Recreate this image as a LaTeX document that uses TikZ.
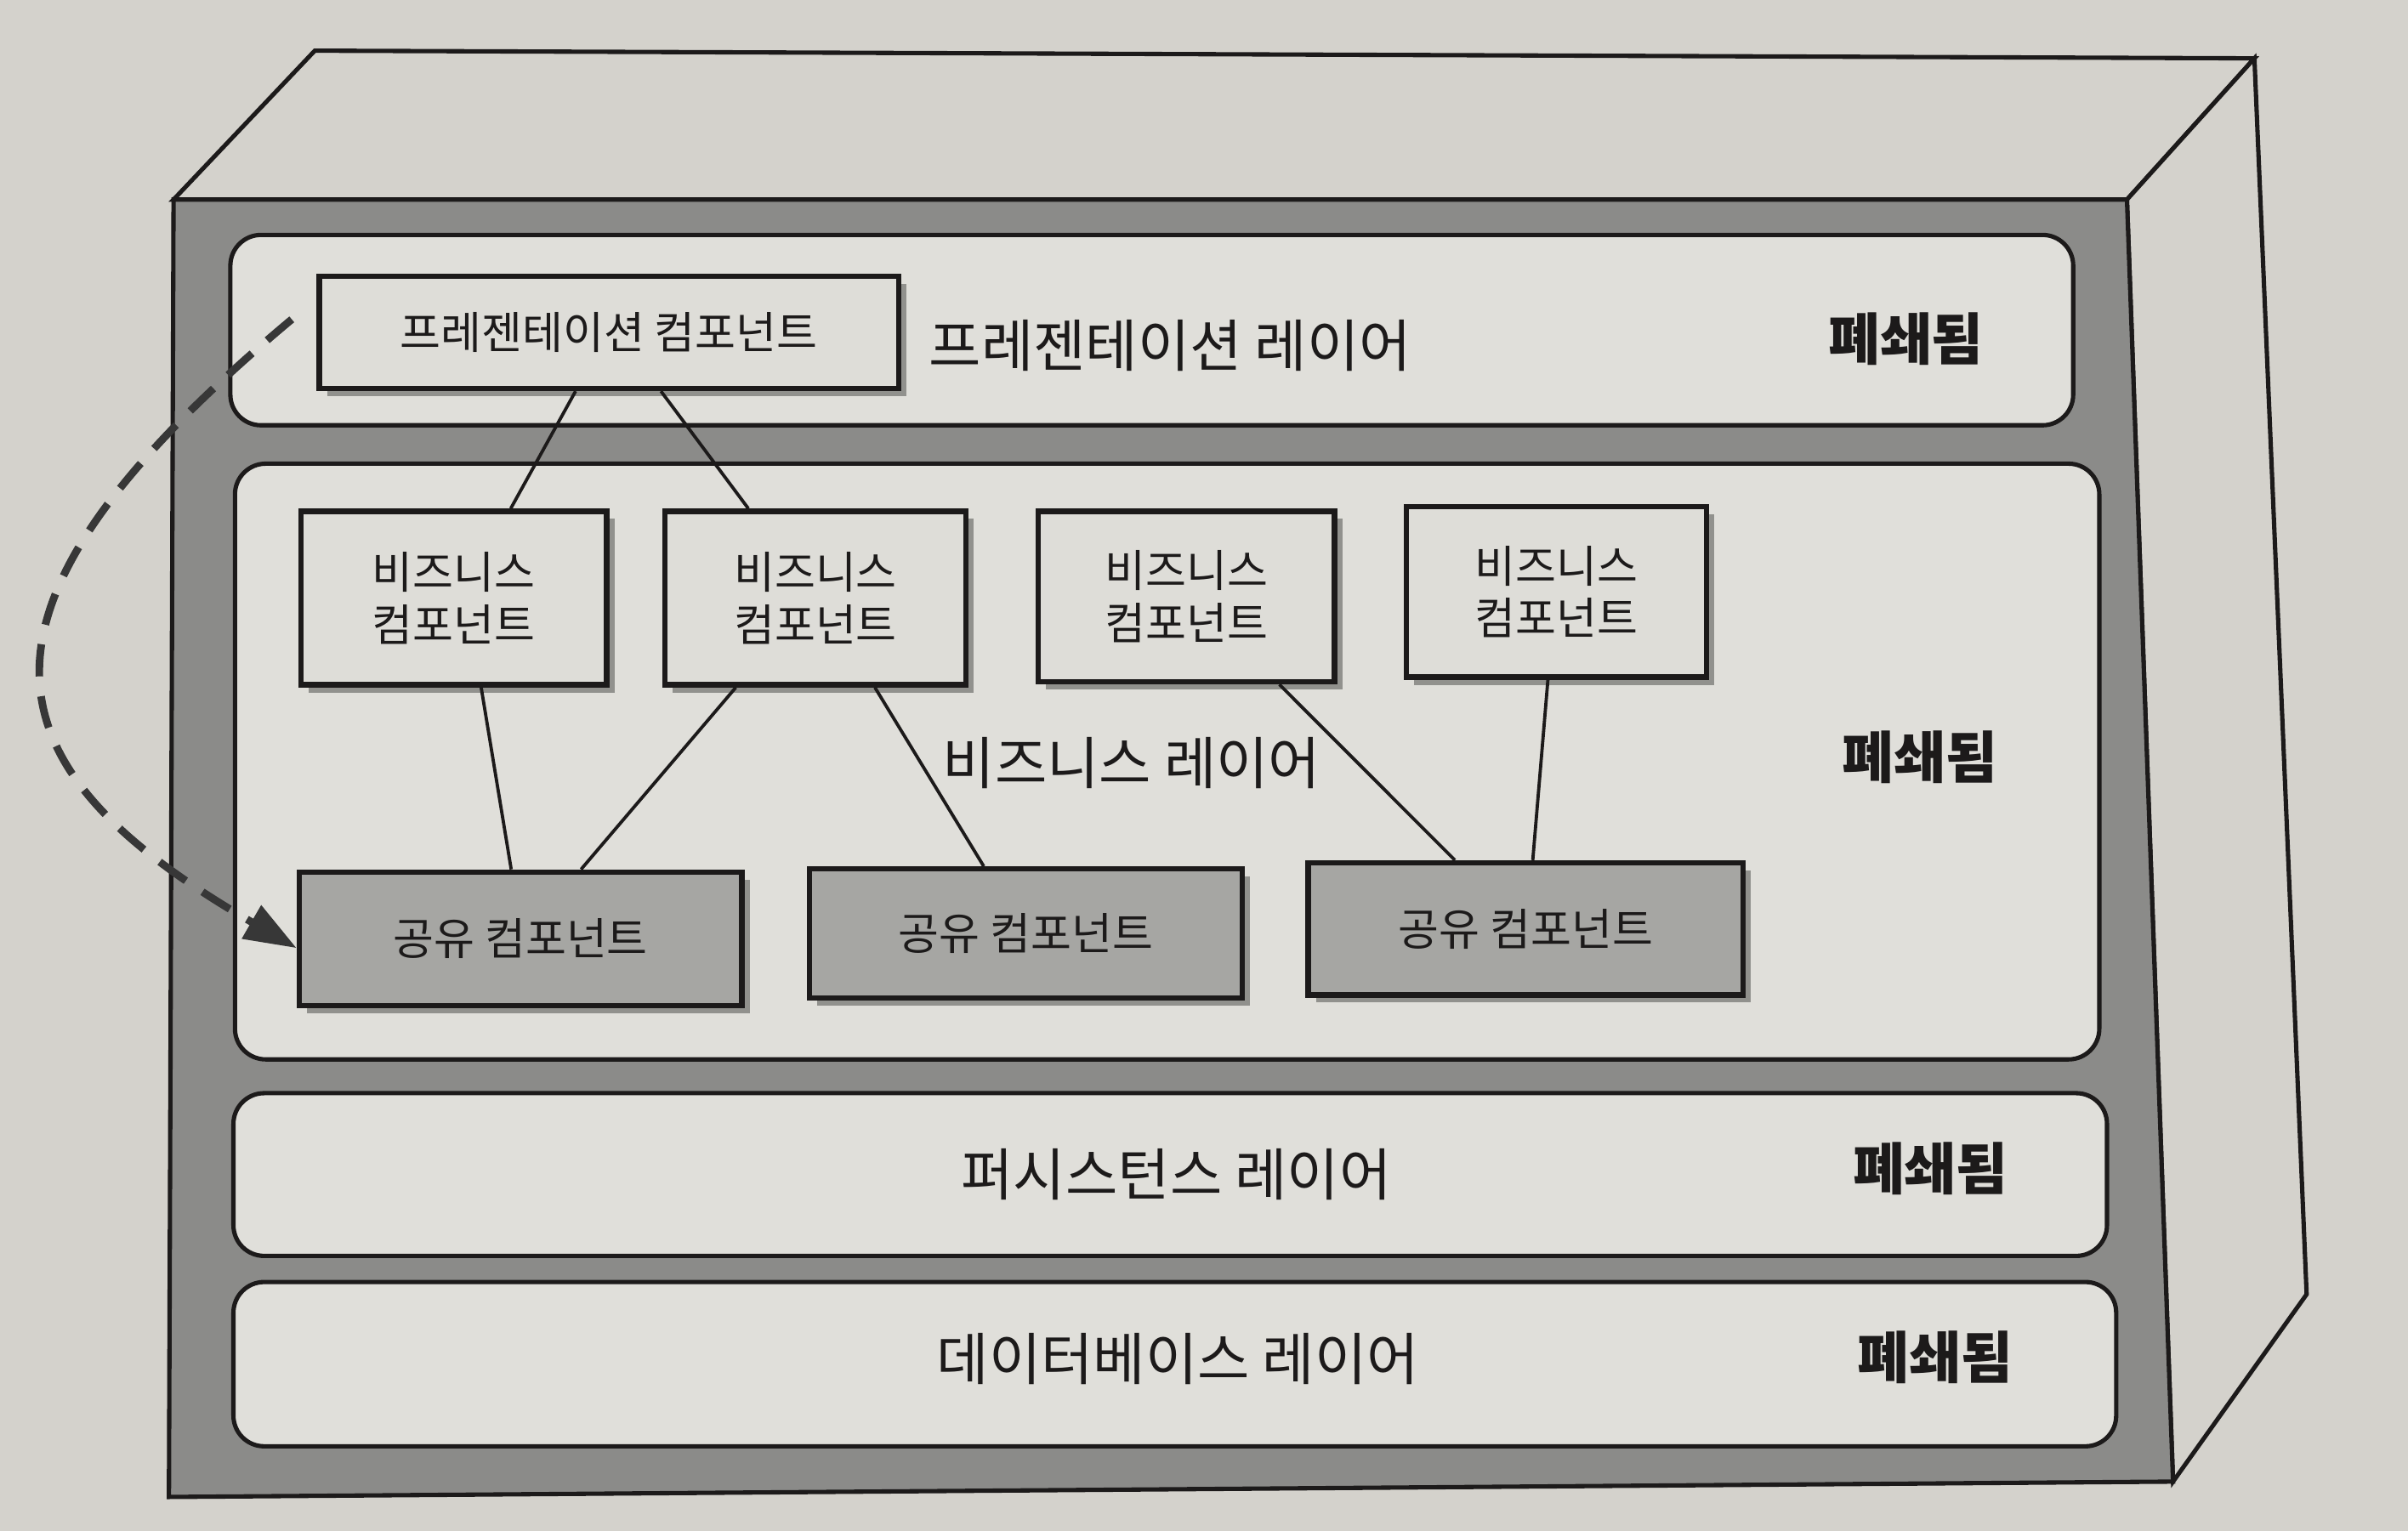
\documentclass[tikz,border=0pt]{standalone}
\usepackage{fontspec}
\newfontfamily\kr{Noto Sans CJK KR}
\usetikzlibrary{calc,arrows.meta,shadows}
\definecolor{paper}{RGB}{212,210,204}
\definecolor{layerfill}{RGB}{224,223,218}
\definecolor{framegray}{RGB}{139,139,137}
\definecolor{sharedfill}{RGB}{166,166,163}
\definecolor{compfill}{RGB}{222,221,216}
\definecolor{ink}{RGB}{28,26,26}
\definecolor{dashink}{RGB}{55,55,55}
\tikzset{
  comp/.style={draw=ink, line width=1pt, fill=compfill, inner sep=0pt, align=center,
    text=ink, font=\kr\fontsize{8.2}{9.7}\selectfont,
    drop shadow={shadow xshift=0.05cm, shadow yshift=-0.05cm, fill=black, opacity=0.35}},
  shcomp/.style={comp, fill=sharedfill},
  layer/.style={draw=ink, line width=0.8pt, fill=layerfill, rounded corners=0.2cm},
  lbl/.style={font=\kr\fontsize{10.5}{12}\selectfont, text=ink},
  closed/.style={font=\kr\bfseries\fontsize{10.4}{12}\selectfont, text=ink},
  link/.style={draw=ink, line width=0.6pt},
  boxline/.style={draw=ink, line width=0.8pt}
}
\begin{document}
\begin{tikzpicture}[x=0.01cm,y=-0.01cm]
\useasboundingbox (0,0) rectangle (1568,997);
\fill[paper] (0,0) rectangle (1568,997);
% outer box
\filldraw[boxline, fill=paper] (113,130) -- (205,33) -- (1468,38) -- (1385,130) -- cycle;
\filldraw[boxline, fill=paper] (1385,130) -- (1468,38) -- (1502,843) -- (1415,965) -- cycle;
\filldraw[boxline, fill=framegray] (113,130) -- (1385,130) -- (1415,965) -- (110,975) -- cycle;
% layers
\draw[layer] (150,153) rectangle (1350,277);
\draw[layer] (153,302) rectangle (1367,690);
\draw[layer] (152,712) rectangle (1372,818);
\draw[layer] (152,835) rectangle (1378,942);
% layer labels
\node[lbl] (lp) at (762,225) {프레젠테이션 레이어};
\node[closed] (cp) at (1241,221) {폐쇄됨};
\node[lbl] (lb) at (737,497) {비즈니스 레이어};
\node[closed] (cb) at (1250,493) {폐쇄됨};
\node[lbl] (ls) at (766,765) {퍼시스턴스 레이어};
\node[closed] (cs) at (1257,761) {폐쇄됨};
\node[lbl] (ld) at (767,885) {데이터베이스 레이어};
\node[closed] (cd) at (1260,884) {폐쇄됨};
% components
\node[comp, minimum width=3.77cm, minimum height=0.73cm] (P) at (396.5,216.5) {프레젠테이션 컴포넌트};
\node[comp, minimum width=1.99cm, minimum height=1.13cm] (B1) at (295.5,389.5) {비즈니스\\컴포넌트};
\node[comp, minimum width=1.96cm, minimum height=1.13cm] (B2) at (531,389.5) {비즈니스\\컴포넌트};
\node[comp, minimum width=1.93cm, minimum height=1.11cm] (B3) at (772.5,388.5) {비즈니스\\컴포넌트};
\node[comp, minimum width=1.95cm, minimum height=1.11cm] (B4) at (1013.5,385.5) {비즈니스\\컴포넌트};
\node[shcomp, minimum width=2.88cm, minimum height=0.87cm] (S1) at (339,611.5) {공유 컴포넌트};
\node[shcomp, minimum width=2.82cm, minimum height=0.84cm] (S2) at (668,608) {공유 컴포넌트};
\node[shcomp, minimum width=2.83cm, minimum height=0.86cm] (S3) at (993.5,605) {공유 컴포넌트};
% connectors
\draw[link] ($(P.south west)!0.443!(P.south east)$) -- ($(B1.north west)!0.683!(B1.north east)$);
\draw[link] ($(P.south west)!0.589!(P.south east)$) -- ($(B2.north west)!0.281!(B2.north east)$);
\draw[link] ($(B1.south west)!0.588!(B1.south east)$) -- ($(S1.north west)!0.479!(S1.north east)$);
\draw[link] ($(B2.south west)!0.240!(B2.south east)$) -- ($(S1.north west)!0.635!(S1.north east)$);
\draw[link] ($(B2.south west)!0.694!(B2.south east)$) -- ($(S2.north west)!0.404!(S2.north east)$);
\draw[link] ($(B3.south west)!0.808!(B3.south east)$) -- ($(S3.north west)!0.339!(S3.north east)$);
\draw[link] ($(B4.south west)!0.472!(B4.south east)$) -- ($(S3.north west)!0.516!(S3.north east)$);
% dashed arrow
\coordinate (dstart) at (190,208);
\draw[dashink, line width=1.4pt, dash pattern=on 0.21cm off 0.13cm,
  -{Triangle[length=0.34cm,width=0.24cm]}]
  (dstart) .. controls (-40,400) and (-10,500) .. ($(S1.west)+(0,6)$);
\end{tikzpicture}
\end{document}
